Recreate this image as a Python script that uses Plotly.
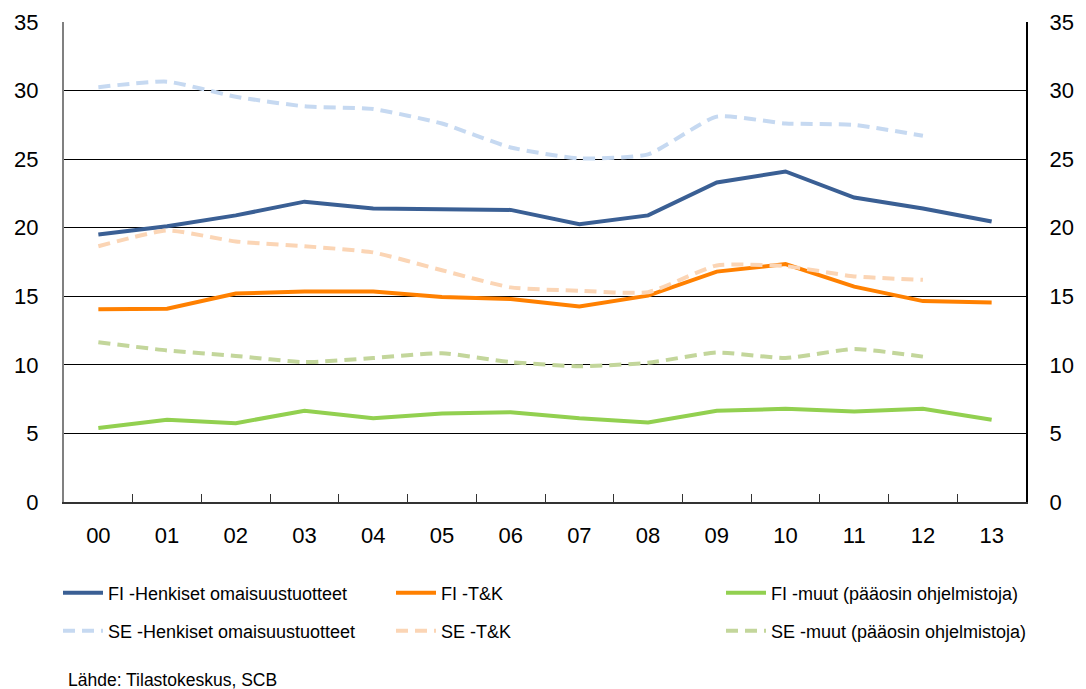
import plotly.graph_objects as go

years = ["00", "01", "02", "03", "04", "05", "06", "07", "08", "09", "10", "11", "12", "13"]

fi_henk = [19.5, 20.1, 20.9, 21.9, 21.4, 21.35, 21.3, 20.25, 20.9, 23.3, 24.1, 22.2, 21.4, 20.45]
fi_tk = [14.05, 14.1, 15.2, 15.35, 15.35, 14.95, 14.8, 14.25, 15.05, 16.8, 17.35, 15.7, 14.65, 14.55]
fi_muut = [5.4, 6.0, 5.75, 6.65, 6.1, 6.45, 6.55, 6.1, 5.8, 6.65, 6.8, 6.6, 6.8, 6.0]
se_henk = [30.25, 30.65, 29.55, 28.85, 28.65, 27.6, 25.85, 25.05, 25.35, 28.1, 27.6, 27.5, 26.7]
se_tk = [18.65, 19.8, 19.0, 18.65, 18.2, 16.9, 15.65, 15.4, 15.3, 17.25, 17.2, 16.45, 16.2]
se_muut = [11.65, 11.05, 10.65, 10.2, 10.5, 10.85, 10.2, 9.9, 10.15, 10.9, 10.5, 11.15, 10.6]

names = [
    "FI -Henkiset omaisuustuotteet", "FI -T&K", "FI -muut (pääosin ohjelmistoja)",
    "SE -Henkiset omaisuustuotteet", "SE -T&K", "SE -muut (pääosin ohjelmistoja)",
]
series = [fi_henk, fi_tk, fi_muut, se_henk, se_tk, se_muut]
colors = ["#3A5F94", "#FF8000", "#92D050", "#C6D9F1", "#FBD5B5", "#C3D69B"]

FONT = "Liberation Sans, Arial, sans-serif"
W, H = 1086, 689

fig = go.Figure()
leg_x = [58, 391, 721]
leg_y = [593, 631]
for i, (name, vals, col) in enumerate(zip(names, series, colors)):
    se = i >= 3
    lname = "legend" if i == 0 else f"legend{i + 1}"
    fig.add_trace(go.Scatter(
        x=years[:len(vals)], y=vals, name=name, mode="lines",
        line=dict(color=col, width=4, dash="12px,7px" if se else "solid",
                  shape="spline" if se else "linear", smoothing=0.5),
        legend=lname,
    ))
    fig.layout[lname] = dict(
        x=leg_x[i % 3] / W, y=1 - leg_y[i // 3] / H,
        xref="container", yref="container",
        xanchor="left", yanchor="middle",
        bgcolor="rgba(0,0,0,0)", itemwidth=40,
        font=dict(family=FONT, size=18, color="#000"),
    )

# invisible trace for right axis
fig.add_trace(go.Scatter(x=years, y=fi_henk, yaxis="y2", showlegend=False,
                         hoverinfo="skip", line=dict(color="rgba(0,0,0,0)")))

yax = dict(range=[0, 35], tickvals=[0, 5, 10, 15, 20, 25, 30, 35],
           tickfont=dict(family=FONT, size=22, color="#000"), ticks="")
fig.update_layout(
    width=W, height=H,
    margin=dict(l=64, r=60, t=22, b=187, autoexpand=False),
    paper_bgcolor="white", plot_bgcolor="white",
    font=dict(family=FONT, color="#000"),
    xaxis=dict(type="category", range=[-0.5, 13.5], tickson="boundaries",
               ticks="inside", ticklen=8, tickcolor="#333", showgrid=False,
               showline=True, linecolor="#333", linewidth=2, tickangle=0,
               ticklabelstandoff=13,
               tickfont=dict(family=FONT, size=22, color="#000")),
    yaxis=dict(**yax, showgrid=True, gridcolor="#000", gridwidth=1,
               showline=True, linecolor="#808080", linewidth=2,
               zeroline=False, ticklabelstandoff=19),
    yaxis2=dict(**yax, overlaying="y", side="right", showgrid=False,
                showline=True, linecolor="#000", linewidth=2,
                zeroline=False, ticklabelstandoff=17),
    annotations=[dict(text="Lähde: Tilastokeskus, SCB", xref="paper", yref="paper",
                      x=2 / 962, y=(502 - 680) / 480, xanchor="left", yanchor="middle",
                      showarrow=False, font=dict(family=FONT, size=17.5, color="#000"))],
)

# drop the default 8px page margin so the figure fills the window
fig.write_html("out.html", config={"displayModeBar": False},
               post_script="document.body.style.margin='0px';")
